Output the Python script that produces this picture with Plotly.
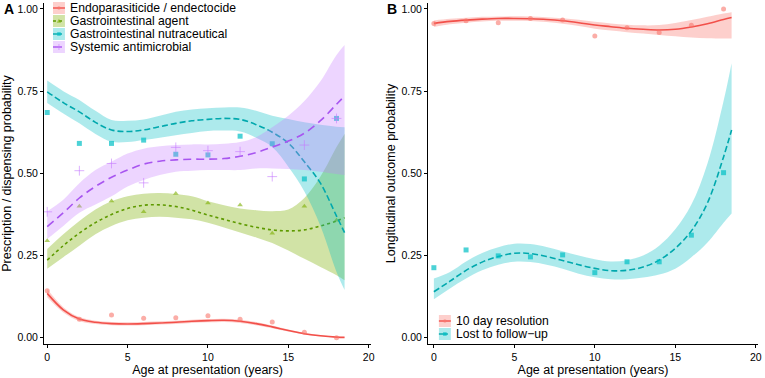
import plotly.graph_objects as go

# ---------------- data ----------------
AGE_PTS = [0, 2, 4, 6, 8, 10, 12, 14, 16, 18]
FIT_X = [0, 1, 2, 3, 4, 5, 6, 7, 8, 9, 10, 11, 12, 13, 14, 15, 16, 17, 18, 18.5]

# Panel A observed proportions
endo_pts = [0.143, 0.056, 0.069, 0.059, 0.061, 0.067, 0.056, 0.048, 0.017, 0.0]
giagent_pts = [0.295, 0.400, 0.416, 0.383, 0.439, 0.410, 0.404, 0.318, 0.400, 0.357]
ginutra_pts = [0.685, 0.591, 0.591, 0.601, 0.558, 0.556, 0.613, 0.590, 0.483, 0.667]
antimic_pts = [0.383, 0.508, 0.530, 0.471, 0.579, 0.569, 0.566, 0.490, 0.586, 0.667]

# Panel A fitted curves and confidence bands
endo_fit = [0.135, 0.085, 0.057, 0.047, 0.043, 0.042, 0.043, 0.045, 0.047, 0.050,
            0.052, 0.053, 0.050, 0.043, 0.033, 0.022, 0.012, 0.006, 0.002, 0.001]
endo_lo = [0.123, 0.077, 0.051, 0.042, 0.038, 0.037, 0.038, 0.040, 0.042, 0.045,
           0.047, 0.048, 0.045, 0.038, 0.029, 0.019, 0.010, 0.004, 0.001, 0.0005]
endo_hi = [0.148, 0.093, 0.063, 0.052, 0.048, 0.047, 0.048, 0.050, 0.052, 0.055,
           0.057, 0.058, 0.055, 0.048, 0.037, 0.025, 0.015, 0.008, 0.004, 0.002]

giagent_fit = [0.236, 0.280, 0.318, 0.350, 0.375, 0.393, 0.403, 0.404, 0.399, 0.388,
               0.373, 0.360, 0.347, 0.336, 0.328, 0.325, 0.328, 0.340, 0.355, 0.365]
giagent_lo = [0.210, 0.245, 0.280, 0.315, 0.340, 0.357, 0.365, 0.368, 0.365, 0.360,
              0.350, 0.335, 0.320, 0.305, 0.288, 0.265, 0.240, 0.215, 0.190, 0.175]
giagent_hi = [0.270, 0.315, 0.355, 0.390, 0.415, 0.430, 0.438, 0.440, 0.437, 0.430,
              0.415, 0.403, 0.393, 0.388, 0.385, 0.390, 0.425, 0.490, 0.580, 0.620]

ginutra_fit = [0.748, 0.715, 0.687, 0.655, 0.632, 0.627, 0.632, 0.642, 0.652, 0.660,
               0.664, 0.667, 0.664, 0.648, 0.625, 0.592, 0.535, 0.470, 0.370, 0.320]
ginutra_lo = [0.714, 0.682, 0.652, 0.620, 0.596, 0.595, 0.601, 0.608, 0.616, 0.623,
              0.629, 0.630, 0.627, 0.608, 0.580, 0.520, 0.445, 0.340, 0.200, 0.145]
ginutra_hi = [0.782, 0.750, 0.723, 0.690, 0.662, 0.660, 0.664, 0.675, 0.687, 0.694,
              0.698, 0.700, 0.700, 0.690, 0.675, 0.665, 0.655, 0.648, 0.642, 0.640]

antimic_fit = [0.338, 0.380, 0.425, 0.460, 0.488, 0.510, 0.528, 0.537, 0.541, 0.543,
               0.543, 0.545, 0.552, 0.563, 0.580, 0.598, 0.622, 0.660, 0.710, 0.735]
antimic_lo = [0.300, 0.340, 0.380, 0.405, 0.430, 0.460, 0.480, 0.495, 0.505, 0.508,
              0.510, 0.510, 0.510, 0.515, 0.515, 0.513, 0.510, 0.505, 0.498, 0.495]
antimic_hi = [0.385, 0.420, 0.470, 0.510, 0.535, 0.560, 0.575, 0.582, 0.586, 0.588,
              0.588, 0.590, 0.595, 0.610, 0.640, 0.675, 0.720, 0.780, 0.860, 0.890]

# Panel B observed proportions
resol_pts = [0.956, 0.964, 0.958, 0.971, 0.966, 0.918, 0.943, 0.928, 0.950, 1.0]
lost_pts = [0.213, 0.267, 0.249, 0.246, 0.252, 0.198, 0.231, 0.231, 0.312, 0.502]

# Panel B fitted curves and confidence bands
resol_fit = [0.956, 0.962, 0.966, 0.969, 0.971, 0.971, 0.970, 0.968, 0.964, 0.958,
             0.951, 0.946, 0.941, 0.938, 0.936, 0.938, 0.945, 0.955, 0.968, 0.974]
resol_lo = [0.945, 0.953, 0.958, 0.962, 0.964, 0.964, 0.963, 0.960, 0.955, 0.948,
            0.940, 0.934, 0.929, 0.925, 0.921, 0.917, 0.913, 0.911, 0.910, 0.910]
resol_hi = [0.965, 0.970, 0.973, 0.976, 0.977, 0.978, 0.977, 0.975, 0.972, 0.967,
            0.961, 0.956, 0.952, 0.950, 0.951, 0.957, 0.966, 0.976, 0.986, 0.990]

lost_fit = [0.140, 0.172, 0.205, 0.230, 0.247, 0.257, 0.256, 0.247, 0.235, 0.222,
            0.211, 0.204, 0.205, 0.215, 0.236, 0.272, 0.325, 0.410, 0.550, 0.632]
lost_lo = [0.117, 0.150, 0.180, 0.205, 0.222, 0.231, 0.230, 0.222, 0.210, 0.195,
           0.184, 0.178, 0.178, 0.183, 0.192, 0.210, 0.245, 0.290, 0.350, 0.378]
lost_hi = [0.180, 0.200, 0.232, 0.258, 0.275, 0.286, 0.285, 0.276, 0.263, 0.250,
           0.239, 0.232, 0.236, 0.250, 0.280, 0.330, 0.405, 0.530, 0.720, 0.835]

Y_TICKS = [0, 0.25, 0.5, 0.75, 1.0]
X_TICKS = [0, 5, 10, 15, 20]

LABELS_A = ["Endoparasiticide / endectocide", "Gastrointestinal agent",
            "Gastrointestinal nutraceutical", "Systemic antimicrobial"]
LABELS_B = ["10 day resolution", "Lost to follow\u2212up"]

# ---------------- styles ----------------
RED = dict(line="#F2504A", band="rgba(248,118,109,0.35)", pt="rgba(248,118,109,0.6)", sym="circle", dash="solid")
GREEN = dict(line="#5E9A00", band="rgba(124,174,0,0.35)", pt="rgba(124,174,0,0.6)", sym="triangle-up", dash="3px,3px")
CYAN = dict(line="#00A8AD", band="rgba(0,191,196,0.32)", pt="rgba(0,191,196,0.7)", sym="square", dash="6px,3px")
PURPLE = dict(line="#A855F0", band="rgba(199,124,255,0.32)", pt="rgba(199,124,255,0.6)", sym="cross-thin-open", dash="8px,5px")

FONT = "Liberation Sans, Arial, sans-serif"

fig = go.Figure()


def add_series(xa, ya, fx, fit, lo, hi, pts, st):
    fig.add_trace(go.Scatter(x=FIT_X, y=lo, mode="lines", line=dict(width=0, shape="spline"),
                             hoverinfo="skip", showlegend=False, xaxis=xa, yaxis=ya))
    fig.add_trace(go.Scatter(x=FIT_X, y=hi, mode="lines", line=dict(width=0, shape="spline"),
                             fill="tonexty", fillcolor=st["band"], hoverinfo="skip",
                             showlegend=False, xaxis=xa, yaxis=ya))
    fig.add_trace(go.Scatter(x=FIT_X, y=fit, mode="lines",
                             line=dict(color=st["line"], width=1.6, dash=st["dash"], shape="spline"),
                             showlegend=False, xaxis=xa, yaxis=ya))
    mk = dict(symbol=st["sym"], size=5, color=st["pt"])
    if st["sym"] == "cross-thin-open":
        mk = dict(symbol=st["sym"], size=7, color=st["pt"], line=dict(color=st["pt"], width=1))
    fig.add_trace(go.Scatter(x=AGE_PTS, y=pts, mode="markers", marker=mk,
                             showlegend=False, xaxis=xa, yaxis=ya))


# Panel A
add_series("x", "y", FIT_X, endo_fit, endo_lo, endo_hi, endo_pts, RED)
add_series("x", "y", FIT_X, giagent_fit, giagent_lo, giagent_hi, giagent_pts, GREEN)
add_series("x", "y", FIT_X, ginutra_fit, ginutra_lo, ginutra_hi, ginutra_pts, CYAN)
add_series("x", "y", FIT_X, antimic_fit, antimic_lo, antimic_hi, antimic_pts, PURPLE)
# Panel B
add_series("x2", "y2", FIT_X, resol_fit, resol_lo, resol_hi, resol_pts, RED)
add_series("x2", "y2", FIT_X, lost_fit, lost_lo, lost_hi, lost_pts, CYAN)

# ---------------- layout ----------------
W, H = 765, 378
ML, MR, MT, MB = 44, 5, 3, 34
PW, PH = W - ML - MR, H - MT - MB


def px(xp):
    return (xp - ML) / PW


def py(yp):
    return (H - MB - yp) / PH


axis_common = dict(showline=True, linecolor="black", linewidth=1, ticks="outside", ticklen=3,
                   tickcolor="black", tickwidth=1, showgrid=False, zeroline=False,
                   tickfont=dict(family=FONT, size=10.5, color="black"))
TITLE_FONT = dict(size=12.5, family=FONT, color="black")
fig.update_layout(
    width=W, height=H, margin=dict(l=ML, r=MR, t=MT, b=MB),
    paper_bgcolor="white", plot_bgcolor="white", showlegend=False,
    font=dict(family=FONT, color="black"),
    xaxis=dict(domain=[0, px(372)], range=[-0.2, 20.15], tickvals=X_TICKS, anchor="y",
               title=dict(text="Age at presentation (years)", font=TITLE_FONT, standoff=3), **axis_common),
    yaxis=dict(domain=[0, 1], range=[-0.019, 1.018], tickvals=Y_TICKS, tickformat=".2f", anchor="x",
               title=dict(text="Prescription / dispensing probability", font=TITLE_FONT, standoff=3), **axis_common),
    xaxis2=dict(domain=[px(429), 1], range=[-0.37, 20.14], tickvals=X_TICKS, anchor="y2",
                title=dict(text="Age at presentation (years)", font=TITLE_FONT, standoff=3), **axis_common),
    yaxis2=dict(domain=[0, 1], range=[-0.019, 1.018], tickvals=Y_TICKS, tickformat=".2f", anchor="x2",
                title=dict(text="Longitudinal outcome probability", font=TITLE_FONT, standoff=3), **axis_common),
)

shapes = []
annotations = []

# panel tags
annotations.append(dict(x=px(2), y=py(9), xref="paper", yref="paper", text="<b>A</b>", showarrow=False,
                        xanchor="left", yanchor="middle", font=dict(size=14, family=FONT)))
annotations.append(dict(x=px(386), y=py(9), xref="paper", yref="paper", text="<b>B</b>", showarrow=False,
                        xanchor="left", yanchor="middle", font=dict(size=14, family=FONT)))


def legend_entry(x0, yc, label, st):
    # key box
    shapes.append(dict(type="rect", xref="paper", yref="paper", x0=px(x0), x1=px(x0 + 12),
                       y0=py(yc - 6), y1=py(yc + 6), fillcolor=st["band"], line=dict(width=0), layer="above"))
    dash = {"solid": "solid", "3px,3px": "dot", "6px,3px": "dash", "8px,5px": "dash"}[st["dash"]]
    shapes.append(dict(type="line", xref="paper", yref="paper", x0=px(x0), x1=px(x0 + 12),
                       y0=py(yc), y1=py(yc), line=dict(color=st["line"], width=1.4, dash=dash), layer="above"))
    cx, cy = x0 + 6, yc
    r = 1.8
    if st["sym"] == "circle":
        shapes.append(dict(type="circle", xref="paper", yref="paper", x0=px(cx - r), x1=px(cx + r),
                           y0=py(cy - r), y1=py(cy + r), fillcolor=st["pt"], line=dict(width=0), layer="above"))
    elif st["sym"] == "square":
        shapes.append(dict(type="rect", xref="paper", yref="paper", x0=px(cx - r), x1=px(cx + r),
                           y0=py(cy - r), y1=py(cy + r), fillcolor=st["pt"], line=dict(width=0), layer="above"))
    elif st["sym"] == "triangle-up":
        path = f"M{px(cx - 2.2)},{py(cy + 1.8)} L{px(cx + 2.2)},{py(cy + 1.8)} L{px(cx)},{py(cy - 2.2)} Z"
        shapes.append(dict(type="path", xref="paper", yref="paper", path=path, fillcolor=st["pt"],
                           line=dict(width=0), layer="above"))
    else:
        shapes.append(dict(type="line", xref="paper", yref="paper", x0=px(cx - 3), x1=px(cx + 3),
                           y0=py(cy), y1=py(cy), line=dict(color=st["pt"], width=1), layer="above"))
        shapes.append(dict(type="line", xref="paper", yref="paper", x0=px(cx), x1=px(cx),
                           y0=py(cy - 3), y1=py(cy + 3), line=dict(color=st["pt"], width=1), layer="above"))
    annotations.append(dict(x=px(x0 + 15), y=py(yc), xref="paper", yref="paper", text=label, showarrow=False,
                            xanchor="left", yanchor="middle", font=dict(size=12.2, family=FONT, color="black")))


for i, (lab, st) in enumerate(zip(LABELS_A, [RED, GREEN, CYAN, PURPLE])):
    legend_entry(53, 8 + 13 * i, lab, st)
for i, (lab, st) in enumerate(zip(LABELS_B, [RED, CYAN])):
    legend_entry(440, 321 + 13 * i, lab, st)

fig.update_layout(shapes=shapes, annotations=annotations)

fig.write_html("out.html", config={"displayModeBar": False},
               post_script="document.body.style.margin='0';document.body.style.overflow='hidden';")
